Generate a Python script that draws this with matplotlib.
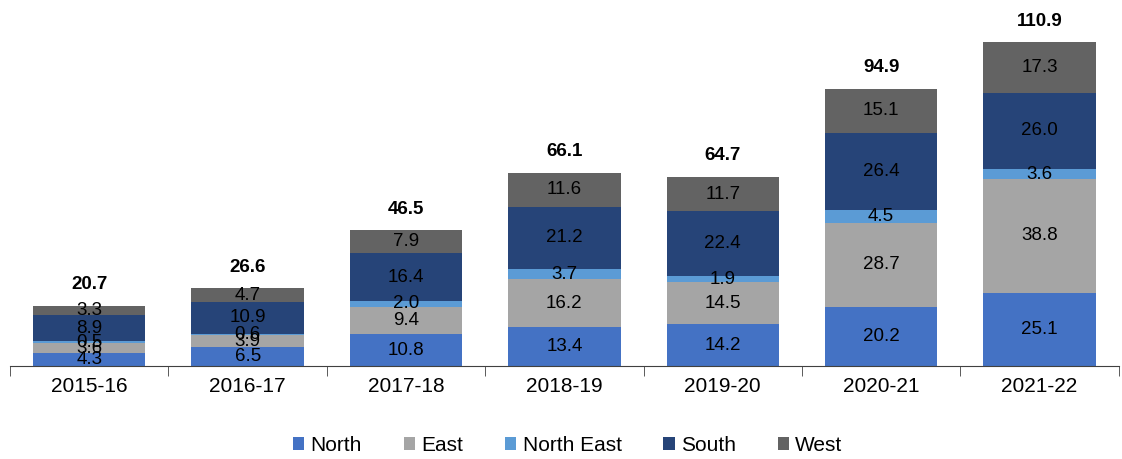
import numpy as np
import matplotlib.pyplot as plt

plt.rcParams['font.family'] = ['Liberation Sans', 'DejaVu Sans']

years = ['2015-16', '2016-17', '2017-18', '2018-19', '2019-20', '2020-21', '2021-22']
north = [4.3, 6.5, 10.8, 13.4, 14.2, 20.2, 25.1]
east = [3.6, 3.9, 9.4, 16.2, 14.5, 28.7, 38.8]
north_east = [0.5, 0.6, 2.0, 3.7, 1.9, 4.5, 3.6]
south = [8.9, 10.9, 16.4, 21.2, 22.4, 26.4, 26.0]
west = [3.3, 4.7, 7.9, 11.6, 11.7, 15.1, 17.3]
totals = [20.7, 26.6, 46.5, 66.1, 64.7, 94.9, 110.9]

series = [('North', north, '#4472C4'),
          ('East', east, '#A5A5A5'),
          ('North East', north_east, '#5B9BD5'),
          ('South', south, '#264478'),
          ('West', west, '#636363')]

fig = plt.figure(figsize=(11.22, 4.59), dpi=100)
ax = fig.add_axes([0.009, 0.203, 0.988, 0.797])

x = np.arange(len(years))
bottom = np.zeros(len(years))
for name, vals, color in series:
    bars = ax.bar(x, vals, 0.71, bottom=bottom, color=color, label=name)
    ax.bar_label(bars, labels=[f'{v:.1f}' for v in vals], label_type='center',
                 fontsize=13.5, color='black')
    bottom += np.array(vals)

for xi, top, t in zip(x, bottom, totals):
    ax.annotate(f'{t:.1f}', (xi, top), xytext=(0, 9), textcoords='offset points',
                ha='center', va='bottom', fontsize=13.5, fontweight='bold')

ax.set_xlim(-0.5, len(years) - 0.5)
ax.set_ylim(0, 125.3)
ax.set_yticks([])
for side in ['left', 'right', 'top']:
    ax.spines[side].set_visible(False)
ax.spines['bottom'].set_color('#404040')

# category labels in the middle, tick marks on the boundaries
ax.set_xticks(x)
ax.set_xticklabels(years, fontsize=15)
ax.tick_params(axis='x', which='major', length=0, pad=8)
ax.set_xticks(np.arange(-0.5, len(years)), minor=True)
ax.tick_params(axis='x', which='minor', length=7, color='#404040', direction='out')

ax.legend(loc='lower center', bbox_to_anchor=(0.503, -0.295), ncol=5, frameon=False,
          fontsize=15, handlelength=0.55, handleheight=0.55, handletextpad=0.3,
          columnspacing=2.0)

fig.savefig('out.png', dpi=100)
